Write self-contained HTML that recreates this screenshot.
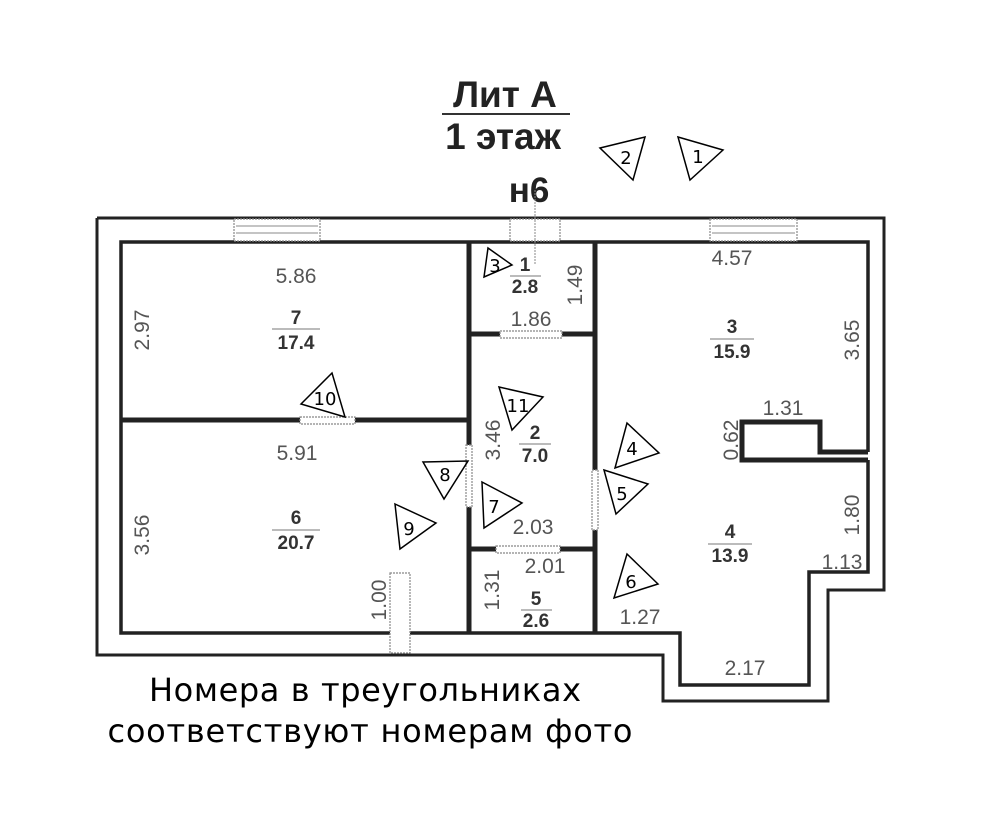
<!DOCTYPE html>
<html><head><meta charset="utf-8"><style>
html,body{margin:0;padding:0;background:#fff}
svg{display:block}
.d{font-family:"Liberation Sans",sans-serif;font-size:21px;fill:#555;text-anchor:middle}
.n{font-family:"Liberation Sans",sans-serif;font-size:19px;font-weight:bold;fill:#333;text-anchor:middle}
.t{font-family:"DejaVu Sans",sans-serif;font-size:18px;fill:#000;text-anchor:middle}
.h{fill:#fff;stroke:#888;stroke-width:1.2;stroke-dasharray:2 1}
</style></head><body>
<svg width="990" height="840" viewBox="0 0 990 840" xmlns="http://www.w3.org/2000/svg">
<rect width="990" height="840" fill="#fff"/>
<text x="505" y="107" font-family="Liberation Sans,sans-serif" font-size="37" font-weight="bold" fill="#222" text-anchor="middle">Лит А</text>
<line x1="442" y1="114" x2="570" y2="114" stroke="#333" stroke-width="2"/>
<text x="503" y="149" font-family="Liberation Sans,sans-serif" font-size="37" font-weight="bold" fill="#222" text-anchor="middle">1 этаж</text>
<text x="529" y="202" font-family="Liberation Sans,sans-serif" font-size="35" font-weight="bold" fill="#222" text-anchor="middle">н6</text>
<g fill="none" stroke="#222" stroke-width="3">
<polyline points="97,218 884,218 884,590 828,590 828,701 663,701 663,655 97,655 97,218"/>
<polyline points="868,452 868,242 121,242 121,633 680,633 680,685 809,685 809,572 868,572 868,460" stroke-width="3.5"/>
</g>
<g stroke="#222" stroke-width="5" fill="none">
<line x1="469" y1="242" x2="469" y2="633"/>
<line x1="595" y1="242" x2="595" y2="633"/>
<line x1="121" y1="420" x2="469" y2="420"/>
<line x1="469" y1="334" x2="595" y2="334"/>
<line x1="469" y1="549" x2="595" y2="549"/>
<polyline points="868,452 820,452 820,422 742,422 742,460 868,460"/>
</g>
<rect class="h" x="234" y="219" width="86" height="22"/>
<line x1="236" y1="226" x2="318" y2="226" stroke="#888"/><line x1="236" y1="233" x2="318" y2="233" stroke="#888"/>
<rect class="h" x="710" y="219" width="87" height="22"/>
<line x1="712" y1="226" x2="795" y2="226" stroke="#888"/><line x1="712" y1="233" x2="795" y2="233" stroke="#888"/>
<rect class="h" x="510" y="219" width="50" height="22"/>
<line x1="535" y1="190" x2="535" y2="265" stroke="#888" stroke-dasharray="2 1"/>
<rect class="h" x="300" y="417" width="55" height="7"/>
<rect class="h" x="500" y="331" width="62" height="7"/>
<rect class="h" x="466" y="445" width="6" height="62"/>
<rect class="h" x="592" y="470" width="6" height="60"/>
<rect class="h" x="496" y="546" width="64" height="7"/>
<rect class="h" x="390" y="573" width="20" height="80"/>
<text class="d" x="296" y="283">5.86</text>
<text class="d" transform="translate(149,330) rotate(-90)">2.97</text>
<text class="n" x="296" y="324">7</text><line x1="272" y1="329" x2="320" y2="329" stroke="#777"/>
<text class="n" x="296" y="349">17.4</text>
<text class="d" x="297" y="460">5.91</text>
<text class="d" transform="translate(149,535) rotate(-90)">3.56</text>
<text class="n" x="296" y="524">6</text><line x1="272" y1="530" x2="320" y2="530" stroke="#777"/>
<text class="n" x="296" y="549">20.7</text>
<text class="d" transform="translate(386,600) rotate(-90)">1.00</text>
<text class="n" x="525" y="271">1</text><line x1="510" y1="276" x2="541" y2="276" stroke="#777"/>
<text class="n" x="525" y="293">2.8</text>
<text class="d" transform="translate(582,285) rotate(-90)">1.49</text>
<text class="d" x="531" y="326">1.86</text>
<text class="d" transform="translate(500,440) rotate(-90)">3.46</text>
<text class="n" x="535" y="439">2</text><line x1="519" y1="444" x2="551" y2="444" stroke="#777"/>
<text class="n" x="535" y="462">7.0</text>
<text class="d" x="533" y="534">2.03</text>
<text class="d" x="545" y="573">2.01</text>
<text class="d" transform="translate(499,590) rotate(-90)">1.31</text>
<text class="n" x="536" y="605">5</text><line x1="521" y1="610" x2="552" y2="610" stroke="#777"/>
<text class="n" x="536" y="627">2.6</text>
<text class="d" x="732" y="265">4.57</text>
<text class="n" x="732" y="333">3</text><line x1="710" y1="339" x2="754" y2="339" stroke="#777"/>
<text class="n" x="732" y="358">15.9</text>
<text class="d" transform="translate(859,340) rotate(-90)">3.65</text>
<text class="d" x="783" y="415">1.31</text>
<text class="d" transform="translate(738,440) rotate(-90)">0.62</text>
<text class="n" x="730" y="538">4</text><line x1="708" y1="544" x2="752" y2="544" stroke="#777"/>
<text class="n" x="730" y="562">13.9</text>
<text class="d" transform="translate(859,515) rotate(-90)">1.80</text>
<text class="d" x="842" y="569">1.13</text>
<text class="d" x="640" y="624">1.27</text>
<text class="d" x="745" y="675">2.17</text>
<g fill="none" stroke="#000" stroke-width="1.5">
<polygon points="600,148 645,137 633,180"/>
<polygon points="678,137 723,150 690,180"/>
<polygon points="488,248 512,265 484,277"/>
<polygon points="301,404 332,373 345,417"/>
<polygon points="499,387 543,397 512,430"/>
<polygon points="423,462 468,461 444,499"/>
<polygon points="482,482 522,503 484,528"/>
<polygon points="395,504 436,523 400,549"/>
<polygon points="627,423 659,453 615,468"/>
<polygon points="604,470 648,484 616,514"/>
<polygon points="627,554 658,584 614,598"/>
</g>
<text class="t" x="626" y="164">2</text>
<text class="t" x="698" y="163">1</text>
<text class="t" x="495" y="272">3</text>
<text class="t" x="325" y="405">10</text>
<text class="t" x="518" y="412">11</text>
<text class="t" x="445" y="481">8</text>
<text class="t" x="494" y="513">7</text>
<text class="t" x="409" y="535">9</text>
<text class="t" x="632" y="455">4</text>
<text class="t" x="622" y="500">5</text>
<text class="t" x="631" y="588">6</text>
<text x="365" y="701" font-family="DejaVu Sans,sans-serif" font-size="32" fill="#000" text-anchor="middle" textLength="432">Номера в треугольниках</text>
<text x="370" y="742" font-family="DejaVu Sans,sans-serif" font-size="32" fill="#000" text-anchor="middle" textLength="525">соответствуют номерам фото</text>
</svg>
</body></html>
